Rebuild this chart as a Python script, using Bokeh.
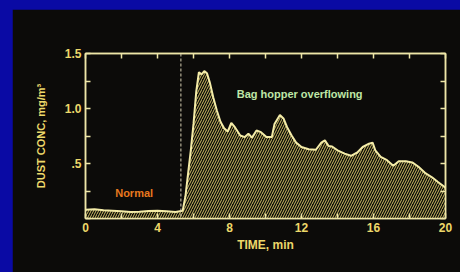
from bokeh.plotting import figure
from bokeh.models import Range1d, LinearAxis, FixedTicker, Span, Label
from bokeh.embed import file_html
from bokeh.resources import INLINE

# ---- data ----
time_min = [0, 0.5, 1.0, 1.5, 2.0, 2.5, 3.0, 3.5, 4.0, 4.5, 5.0, 5.4, 5.55, 5.7, 5.85,
            6.0, 6.15, 6.3, 6.45, 6.6, 6.75, 6.9, 7.1, 7.3, 7.5, 7.7, 7.9, 8.1, 8.3,
            8.6, 8.85, 9.05, 9.25, 9.5, 9.75, 10.05, 10.35, 10.5, 10.8, 11.0, 11.2,
            11.45, 11.7, 12.0, 12.4, 12.8, 13.1, 13.3, 13.5, 13.7, 14.0, 14.4, 14.75,
            15.1, 15.4, 15.75, 15.95, 16.1, 16.4, 16.75, 17.1, 17.4, 17.8, 18.15, 18.5,
            18.9, 19.25, 19.6, 20.0]
dust_conc = [0.08, 0.085, 0.075, 0.07, 0.065, 0.06, 0.062, 0.068, 0.07, 0.065, 0.06,
             0.07, 0.2, 0.41, 0.62, 0.86, 1.15, 1.33, 1.31, 1.34, 1.32, 1.24, 1.10,
             0.98, 0.88, 0.82, 0.79, 0.87, 0.83, 0.755, 0.74, 0.77, 0.735, 0.80, 0.785,
             0.74, 0.74, 0.86, 0.94, 0.91, 0.83, 0.755, 0.69, 0.65, 0.63, 0.625, 0.69,
             0.71, 0.66, 0.655, 0.62, 0.59, 0.57, 0.60, 0.65, 0.68, 0.69, 0.62, 0.56,
             0.53, 0.48, 0.52, 0.52, 0.51, 0.47, 0.41, 0.375, 0.33, 0.28]
event_time = 5.3
x_ticks = [0, 4, 8, 12, 16, 20]
x_tick_labels = ["0", "4", "8", "12", "16", "20"]
x_minor = [2, 6, 10, 14, 18]
y_ticks = [0, 0.5, 1.0, 1.5]
y_tick_labels = ["", ".5", "1.0", "1.5"]
y_minor = [0.25, 0.75, 1.25]
normal_label = ("Normal", 1.65, 0.23)
event_label = ("Bag hopper overflowing", 8.4, 1.13)

BG = "#0c0b09"
FRAME = "#eee6a8"
TXT = "#ecd86a"
FONT = "Liberation Sans"

p = figure(width=448, height=263, output_backend="svg", toolbar_location=None,
           x_range=Range1d(0, 20), y_range=Range1d(0, 1.5),
           min_border_left=73, min_border_right=15, min_border_top=44,
           min_border_bottom=54, background_fill_color=BG, border_fill_color=BG,
           outline_line_color=FRAME, outline_line_width=1.5)
p.margin = (9, 0, 0, 12)
p.grid.visible = False

p.varea(x=time_min, y1=[0] * len(time_min), y2=dust_conc, fill_color=BG,
        hatch_pattern="/", hatch_color="#cdbd62", hatch_scale=5, hatch_weight=1)
p.line(time_min, dust_conc, line_color="#f4eca8", line_width=2)

p.add_layout(Span(location=event_time, dimension="height", line_color="#d8d2b4",
                  line_width=1, line_dash="3 2"))

def style_axis(ax, ticks, minor, show_labels):
    ax.axis_line_color = FRAME
    ax.axis_line_width = 1.5
    ax.major_tick_line_color = FRAME
    ax.minor_tick_line_color = FRAME
    ax.major_tick_line_width = 1.5
    ax.minor_tick_line_width = 1.5
    ax.major_tick_in = 5
    ax.major_tick_out = 0
    ax.minor_tick_in = 5
    ax.minor_tick_out = 0
    ax.ticker = FixedTicker(ticks=ticks, minor_ticks=minor)
    ax.major_label_text_color = TXT
    ax.major_label_text_font = FONT
    ax.major_label_text_font_style = "bold"
    ax.major_label_text_font_size = "12px"
    ax.axis_label_text_color = TXT
    ax.axis_label_text_font = FONT
    ax.axis_label_text_font_style = "bold"
    ax.axis_label_text_font_size = "11px"
    if not show_labels:
        ax.major_label_text_alpha = 0

xa = p.xaxis[0]
style_axis(xa, x_ticks, x_minor, True)
xa.major_label_overrides = {t: s for t, s in zip(x_ticks, x_tick_labels)}
xa.major_label_standoff = 4
xa.axis_label = "TIME, min"
xa.axis_label_text_font_size = "12px"
xa.axis_label_standoff = 3

ya = p.yaxis[0]
style_axis(ya, y_ticks, y_minor, True)
ya.major_label_overrides = {t: s for t, s in zip(y_ticks, y_tick_labels)}
ya.major_label_standoff = 4
ya.axis_label = "DUST CONC, mg/m³"
ya.axis_label_standoff = 15

top = LinearAxis()
style_axis(top, x_ticks + x_minor, [], False)
p.add_layout(top, "above")
right = LinearAxis()
style_axis(right, y_ticks, y_minor, False)
p.add_layout(right, "right")

p.add_layout(Label(x=normal_label[1], y=normal_label[2], text=normal_label[0],
                   text_color="#e8781e", text_font=FONT, text_font_style="bold",
                   text_font_size="11px", text_baseline="middle"))
p.add_layout(Label(x=event_label[1], y=event_label[2], text=event_label[0],
                   text_color="#bfe6a6", text_font=FONT, text_font_style="bold",
                   text_font_size="11px", text_baseline="middle"))

html = file_html(p, INLINE)
html = html.replace("</head>",
                    "<style>html, body { background-color: #0a0aa4; }</style></head>", 1)
open("out.html", "w").write(html)
